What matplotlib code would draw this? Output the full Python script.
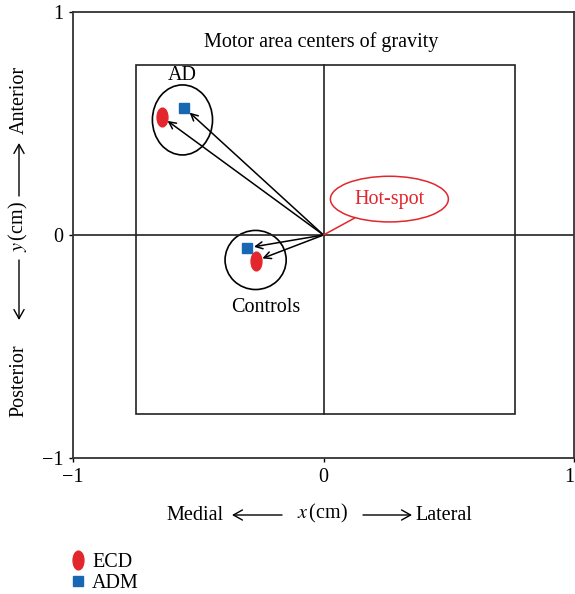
import numpy as np
import matplotlib
matplotlib.use("Agg")
import matplotlib.pyplot as plt
from matplotlib.patches import Ellipse, Rectangle, FancyArrowPatch
from matplotlib.lines import Line2D
from matplotlib.path import Path

plt.rcParams['font.family'] = ['Liberation Serif', 'DejaVu Serif']
plt.rcParams['mathtext.fontset'] = 'stix'

RED = '#e2262c'
BLUE = '#1767b3'
FS = 14.5

# data (cm)
groups = ['AD', 'Controls']
ecd_x = [-0.645, -0.270]
ecd_y = [0.530, -0.116]
adm_x = [-0.555, -0.305]
adm_y = [0.570, -0.058]
circle_cx = [-0.563, -0.271]
circle_cy = [0.516, -0.112]
circle_w = [0.240, 0.244]
circle_h = [0.314, 0.265]
label_pos = [(-0.565, 0.717), (-0.23, -0.327)]
region_x = [-0.75, 0.765]
region_y = [-0.803, 0.762]
hotspot = (0.0, 0.0)

fig = plt.figure(figsize=(5.75, 5.94), dpi=100)
ax = fig.add_axes([73/575, 1-458/594, 501/575, 446/594])
ax.set_xlim(-1, 1)
ax.set_ylim(-1, 1)
ax.set_xticks([-1, 0, 1])
ax.set_yticks([-1, 0, 1])
ax.set_xticklabels(['\u22121', '0', '1'])
ax.set_yticklabels(['\u22121', '0', '1'])
ax.tick_params(direction='out', length=3, width=1, labelsize=FS, pad=4)
ax.get_xticklabels()[-1].set_horizontalalignment('right')
for s in ax.spines.values():
    s.set_linewidth(1.3)
    s.set_color('#333333')

# inner region and cross
ax.add_patch(Rectangle((region_x[0], region_y[0]), region_x[1]-region_x[0],
                       region_y[1]-region_y[0], fill=False, lw=1.2, ec='#222222'))
ax.axhline(0, color='#222222', lw=1.2)
ax.plot([0, 0], region_y, color='#222222', lw=1.2)

ax.text(-0.01, 0.865, 'Motor area centers of gravity', ha='center', va='center', fontsize=FS)

ell = Path.unit_circle()
ell_path = Path(ell.vertices * np.array([0.58, 1.0]), ell.codes)

for i, g in enumerate(groups):
    ax.add_patch(Ellipse((circle_cx[i], circle_cy[i]), circle_w[i], circle_h[i],
                         fill=False, lw=1.2, ec='black'))
    ax.text(label_pos[i][0], label_pos[i][1], g, ha='center', va='center', fontsize=FS)
    for px, py in [(ecd_x[i], ecd_y[i]), (adm_x[i], adm_y[i])]:
        ax.annotate('', xy=(px, py), xytext=hotspot,
                    arrowprops=dict(arrowstyle='->,head_length=0.5,head_width=0.25',
                                    lw=1.1, color='black', shrinkA=0, shrinkB=5))

ax.plot(ecd_x, ecd_y, ls='none', marker=ell_path, ms=13.5, color=RED, mec=RED, zorder=5)
ax.plot(adm_x, adm_y, ls='none', marker='s', ms=7.5, color=BLUE, mec=BLUE, zorder=5)

ax.annotate('Hot-spot', xy=hotspot, xytext=(0.263, 0.161), color=RED, fontsize=FS,
            ha='center', va='center',
            bbox=dict(boxstyle='ellipse,pad=0.33', fc='white', ec=RED, lw=1.1),
            arrowprops=dict(arrowstyle='-', color=RED, lw=1.1, shrinkA=0, shrinkB=0))

# x axis label pieces (figure pixels, origin bottom-left)
H = 594
fy = H - 515
fig.text(195/575, fy/H, 'Medial', ha='center', va='center', fontsize=FS)
fig.text(322/575, (fy+2)/H, r'$x\,$(cm)', ha='center', va='center', fontsize=FS)
fig.text(415/575, fy/H, 'Lateral', ha='left', va='center', fontsize=FS)
arrow_kw = dict(arrowstyle='->,head_length=0.5,head_width=0.28', lw=1.0, color='black',
                shrinkA=0, shrinkB=0, mutation_scale=13)
fig.add_artist(FancyArrowPatch((282/575, fy/H), (232/575, fy/H),
               transform=fig.transFigure, **arrow_kw))
fig.add_artist(FancyArrowPatch((363/575, fy/H), (412/575, fy/H),
               transform=fig.transFigure, **arrow_kw))

# y axis label pieces
fx = 19
fig.text(fx/575, (H-100)/H, 'Anterior', ha='center', va='center', rotation=90, fontsize=FS)
fig.text((fx-1)/575, (H-227)/H, r'$y\,$(cm)', ha='center', va='center', rotation=90, fontsize=FS)
fig.text(fx/575, (H-381)/H, 'Posterior', ha='center', va='center', rotation=90, fontsize=FS)
fig.add_artist(FancyArrowPatch((fx/575, (H-196)/H), (fx/575, (H-143)/H),
               transform=fig.transFigure, **arrow_kw))
fig.add_artist(FancyArrowPatch((fx/575, (H-260)/H), (fx/575, (H-320)/H),
               transform=fig.transFigure, **arrow_kw))

handles = [Line2D([], [], ls='none', marker=ell_path, ms=13.5, color=RED, mec=RED),
           Line2D([], [], ls='none', marker='s', ms=7.5, color=BLUE, mec=BLUE)]
fig.legend(handles, ['ECD', 'ADM'], loc='upper left', bbox_to_anchor=(68/575, (H-553)/H),
           frameon=False, fontsize=FS, handlelength=1.0, handletextpad=0.2,
           labelspacing=0.08, borderpad=0, borderaxespad=0)

fig.savefig('out.png', dpi=100)
